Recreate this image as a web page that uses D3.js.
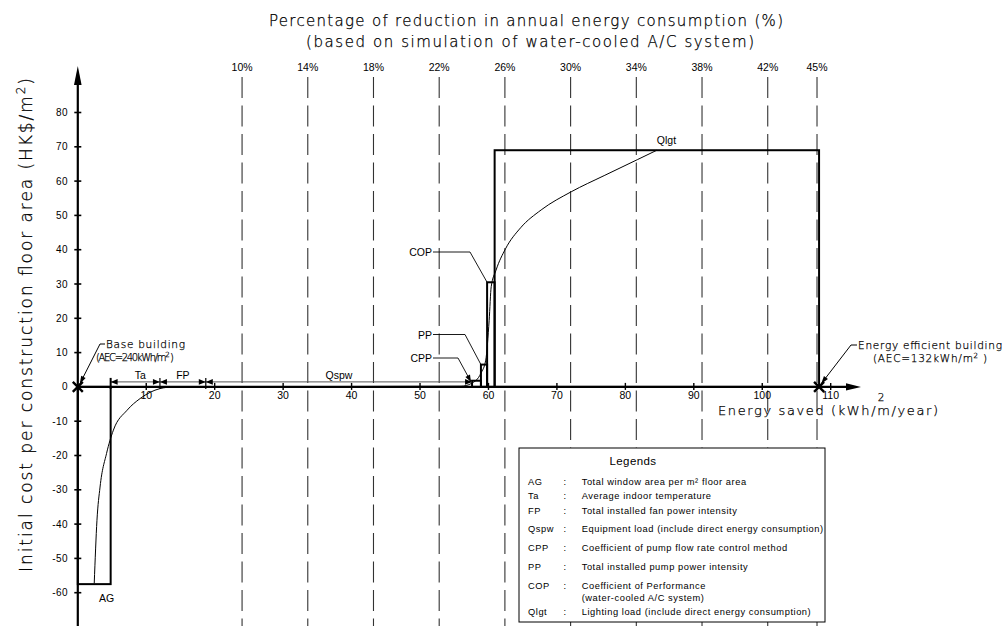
<!DOCTYPE html>
<html><head><meta charset="utf-8">
<script src="https://cdn.jsdelivr.net/npm/d3@7/dist/d3.min.js"></script>
<style>body{margin:0;background:#fff}svg{display:block}
.thin{fill:#000;stroke:#000;stroke-width:0.25}</style>
</head><body>
<svg id="c" width="1003" height="626"></svg>
<script>
// ---------------- data ----------------
const measures     = ["AG", "Ta", "FP", "Qspw", "CPP", "PP", "COP", "Qlgt"];
const energyBounds = [0, 4.8, 12.0, 18.7, 57.6, 58.9, 59.8, 60.9, 108.3];
const costs        = [-57.5, 0, 0, 0, 1.8, 6.5, 30.5, 69];

const curveEnergy = [2.4, 2.8, 3.25, 4.2, 5.2, 7.2, 9.1, 12.0, 14, 56, 57.5, 58.9, 59.6, 60.1, 60.4, 61.1, 62.5, 64.7, 67.7, 72.1, 76.9, 81.8, 84.6];
const curveCost   = [-57.3, -38.9, -29.2, -19.4, -12.6, -6.8, -3.4, -0.5, 0, 0.2, 1.0, 4.0, 7.8, 19.4, 29.2, 34.0, 40.3, 46.4, 51.6, 56.9, 61.6, 66.3, 69];

const baseAEC    = 240;
const effAEC     = 132;
const pctValues  = [10, 14, 18, 22, 26, 30, 34, 38, 42, 45];
const pctLabels  = ["10%", "14%", "18%", "22%", "26%", "30%", "34%", "38%", "42%", "45%"];
const xTicks     = [10, 20, 30, 40, 50, 60, 70, 80, 90, 100, 110];
const yTicks     = [-60, -50, -40, -30, -20, -10, 0, 10, 20, 30, 40, 50, 60, 70, 80];

const legendKeys  = ["AG", "Ta", "FP", "Qspw", "CPP", "PP", "COP", "Qlgt"];
const legendDescs = [
  "Total window area per m\u00b2 floor area",
  "Average indoor temperature",
  "Total installed fan power intensity",
  "Equipment load (include direct energy consumption)",
  "Coefficient of pump flow rate control method",
  "Total installed pump power intensity",
  "Coefficient of Performance|(water-cooled A/C system)",
  "Lighting load (include direct energy consumption)"
];

// ---------------- layout ----------------
const svg = d3.select("#c");
const x = d3.scaleLinear().domain([0, 110]).range([77.8, 830.7]);
const y = d3.scaleLinear().domain([-60, 80]).range([592.7, 112.5]);
const big = "'DejaVu Sans', sans-serif";
const small = "'Liberation Sans', Arial, sans-serif";

// dashed percentage lines
const pctG = svg.append("g");
pctValues.forEach((p, i) => {
  const xv = x(p / 100 * baseAEC);
  pctG.append("line").attr("x1", xv).attr("x2", xv).attr("y1", 77).attr("y2", 626)
    .attr("stroke", "#333").attr("stroke-width", 1.1).attr("stroke-dasharray", "21,7.5");
  pctG.append("text").attr("x", xv).attr("y", 67).attr("text-anchor", "middle")
    .attr("dominant-baseline", "central").attr("font-family", small).attr("font-size", 10.5)
    .text(pctLabels[i]);
});

// titles
svg.append("text").attr("class", "thin").attr("x", 269).attr("y", 26).attr("font-family", big).attr("font-size", 15)
  .attr("font-weight", 200).attr("textLength", 514).attr("lengthAdjust", "spacing")
  .text("Percentage of reduction in annual energy consumption (%)");
svg.append("text").attr("class", "thin").attr("x", 306).attr("y", 47).attr("font-family", big).attr("font-size", 15)
  .attr("font-weight", 200).attr("textLength", 448).attr("lengthAdjust", "spacing")
  .text("(based on simulation of water-cooled A/C system)");

// y-axis label
const yl = svg.append("text").attr("class", "thin").attr("transform", "translate(32,572) rotate(-90)")
  .attr("font-family", big).attr("font-size", 17).attr("font-weight", 200)
  .attr("textLength", 494).attr("lengthAdjust", "spacing");
yl.append("tspan").text("Initial cost per construction floor area (HK$/m");
yl.append("tspan").attr("baseline-shift", "super").attr("font-size", 12).text("2");
yl.append("tspan").text(")");

// axes
const y0 = y(0);
svg.append("line").attr("x1", x(0)).attr("x2", x(0)).attr("y1", 626).attr("y2", 80)
  .attr("stroke", "#000").attr("stroke-width", 2.2);
svg.append("path").attr("d", `M${x(0)},66 L${x(0) - 3.8},85 L${x(0) + 3.8},85 Z`).attr("fill", "#000");
svg.append("line").attr("x1", x(0)).attr("x2", 850).attr("y1", y0).attr("y2", y0)
  .attr("stroke", "#000").attr("stroke-width", 2.2);
svg.append("path").attr("d", `M861,${y0} L846,${y0 - 3.6} L846,${y0 + 3.6} Z`).attr("fill", "#000");

yTicks.forEach(t => {
  if (t !== 0) svg.append("line").attr("x1", x(0) - 3.5).attr("x2", x(0) + 3.5)
    .attr("y1", y(t)).attr("y2", y(t)).attr("stroke", "#000").attr("stroke-width", 1.6);
  svg.append("text").attr("x", 68).attr("y", y(t)).attr("text-anchor", "end")
    .attr("dominant-baseline", "central").attr("font-family", small).attr("font-size", 10)
    .attr("letter-spacing", 0.4).text(t);
});
xTicks.forEach(t => {
  svg.append("line").attr("x1", x(t)).attr("x2", x(t)).attr("y1", y0 - 4).attr("y2", y0 + 3)
    .attr("stroke", "#000").attr("stroke-width", 1.4);
  svg.append("text").attr("x", x(t)).attr("y", 395).attr("text-anchor", "middle")
    .attr("dominant-baseline", "central").attr("font-family", small).attr("font-size", 10.5)
    .text(t);
});

// x-axis label
svg.append("text").attr("class", "thin").attr("x", 718).attr("y", 415).attr("font-family", big).attr("font-size", 13)
  .attr("font-weight", 200).attr("textLength", 220).attr("lengthAdjust", "spacing")
  .text("Energy saved (kWh/m/year)");
svg.append("text").attr("class", "thin").attr("x", 881).attr("y", 397).attr("text-anchor", "middle")
  .attr("dominant-baseline", "central").attr("font-family", big).attr("font-weight", 200)
  .attr("font-size", 10.5).text("2");

// bars (step outlines)
measures.forEach((m, i) => {
  const c = costs[i];
  if (c === 0) return;
  const x1 = x(energyBounds[i]), x2 = x(energyBounds[i + 1]);
  const ya = y(Math.max(c, 0)), yb = y(Math.min(c, 0));
  svg.append("rect").attr("x", x1).attr("y", ya).attr("width", x2 - x1).attr("height", yb - ya)
    .attr("fill", "none").attr("stroke", "#000").attr("stroke-width", 2);
});

// cumulative curve
const pts = curveEnergy.map((e, i) => [x(e), y(curveCost[i])]);
svg.append("path").attr("d", d3.line().curve(d3.curveMonotoneX)(pts))
  .attr("fill", "none").attr("stroke", "#000").attr("stroke-width", 1);

// dimension line for Ta, FP, Qspw
const dimY = y0 - 5;
const arrow = (xt, dir) => `M${xt},${dimY} L${xt - dir * 7},${dimY - 2.8} L${xt - dir * 7},${dimY + 2.8} Z`;
[1, 2, 3].forEach(i => {
  const a = x(energyBounds[i]), b = x(energyBounds[i + 1]);
  svg.append("line").attr("x1", a).attr("x2", b).attr("y1", dimY).attr("y2", dimY)
    .attr("stroke", "#555").attr("stroke-width", 1);
  svg.append("path").attr("d", arrow(a, -1)).attr("fill", "#000");
  svg.append("path").attr("d", arrow(b, 1)).attr("fill", "#000");
  svg.append("line").attr("x1", a).attr("x2", a).attr("y1", dimY - 4).attr("y2", y0 + 2)
    .attr("stroke", "#000").attr("stroke-width", i === 1 ? 2 : 1.2);
  svg.append("text").attr("x", (a + b) / 2 + (i === 1 ? 5 : 0)).attr("y", dimY - 7).attr("text-anchor", "middle")
    .attr("dominant-baseline", "central").attr("font-family", small).attr("font-size", 10.5)
    .text(measures[i]);
});

// labels with leaders for AG, CPP, PP, COP, Qlgt
svg.append("text").attr("x", x(energyBounds[1]) - 4).attr("y", y(costs[0]) + 14).attr("text-anchor", "middle")
  .attr("dominant-baseline", "central").attr("font-family", small).attr("font-size", 10.5).text("AG");
svg.append("text").attr("x", x(84.6)).attr("y", y(69) - 10).attr("font-family", small)
  .attr("dominant-baseline", "central").attr("font-size", 10.5).text("Qlgt");

const leaders = [
  { i: 6, tx: x(energyBounds[6]), ty: y(costs[6]), ly: 252, ex: 470 },
  { i: 5, tx: x(energyBounds[5]), ty: y(costs[5]), ly: 334.5, ex: 465 },
  { i: 4, tx: x(energyBounds[4]) - 1, ty: y0 - 5, ly: 358, ex: 458, arrow: true }
];
leaders.forEach(l => {
  svg.append("path").attr("d", `M433,${l.ly} L${l.ex},${l.ly} L${l.tx},${l.ty}`)
    .attr("fill", "none").attr("stroke", "#000").attr("stroke-width", 0.9);
  if (l.arrow) {
    const ang = Math.atan2(l.ty - l.ly, l.tx - l.ex);
    const L = 7, W = 2.6;
    const bx = l.tx - L * Math.cos(ang), by = l.ty - L * Math.sin(ang);
    svg.append("path").attr("d", `M${l.tx},${l.ty} L${bx - W * Math.sin(ang)},${by + W * Math.cos(ang)} L${bx + W * Math.sin(ang)},${by - W * Math.cos(ang)} Z`).attr("fill", "#000");
  }
  svg.append("text").attr("x", 432).attr("y", l.ly).attr("text-anchor", "end")
    .attr("dominant-baseline", "central").attr("font-family", small).attr("font-size", 10.5)
    .text(measures[l.i]);
});

// X markers
[0, 108.3].forEach(e => {
  const cx = x(e);
  svg.append("path").attr("d", `M${cx - 5},${y0 - 5} L${cx + 5},${y0 + 5} M${cx - 5},${y0 + 5} L${cx + 5},${y0 - 5}`)
    .attr("stroke", "#000").attr("stroke-width", 2.4);
});

// Base building / energy efficient building annotations
function pointer(x1, y1, x2, y2, x3, y3) {
  svg.append("path").attr("d", `M${x1},${y1} L${x2},${y2} L${x3},${y3}`)
    .attr("fill", "none").attr("stroke", "#000").attr("stroke-width", 1);
  const ang = Math.atan2(y3 - y2, x3 - x2), L = 8, W = 2.5;
  const bx = x3 - L * Math.cos(ang), by = y3 - L * Math.sin(ang);
  svg.append("path").attr("d", `M${x3},${y3} L${bx - W * Math.sin(ang)},${by + W * Math.cos(ang)} L${bx + W * Math.sin(ang)},${by - W * Math.cos(ang)} Z`).attr("fill", "#000");
}
pointer(105, 344, 100, 344, x(0) + 2, y0 - 3);
pointer(857, 345, 851, 345, x(108.3) + 2, y0 - 3);

function aecText(tx, ty, len, fs, txt) {
  const t = svg.append("text").attr("class", "thin").attr("x", tx).attr("y", ty).attr("font-family", big).attr("font-size", fs)
    .attr("font-weight", 200).attr("textLength", len).attr("lengthAdjust", "spacing");
  t.append("tspan").text(txt);
  t.append("tspan").attr("baseline-shift", "super").attr("font-size", 7).text("2");
  t.append("tspan").text(" )");
}
svg.append("text").attr("class", "thin").attr("x", 106).attr("y", 348).attr("font-family", big).attr("font-size", 10.5)
  .attr("font-weight", 200).attr("textLength", 79).attr("lengthAdjust", "spacing").text("Base building");
aecText(96, 361, 78, 10, "(AEC=" + baseAEC + "kWh/m");
svg.append("text").attr("class", "thin").attr("x", 858).attr("y", 349).attr("font-family", big).attr("font-size", 10.5)
  .attr("font-weight", 200).attr("textLength", 144).attr("lengthAdjust", "spacing").text("Energy efficient building");
aecText(873, 362, 114, 10.5, "(AEC=" + effAEC + "kWh/m");

// legend
const lx = 519, ly = 448;
svg.append("rect").attr("x", lx).attr("y", ly).attr("width", 306).attr("height", 174)
  .attr("fill", "#fff").attr("stroke", "#000").attr("stroke-width", 1);
svg.append("text").attr("x", 633).attr("y", ly + 13).attr("text-anchor", "middle")
  .attr("dominant-baseline", "central").attr("font-family", small).attr("font-size", 11.5)
  .attr("letter-spacing", 0.4).text("Legends");
const rowY = [33.7, 47.7, 62.7, 81.3, 100.3, 118.7, 137.7, 163.7];
legendKeys.forEach((k, i) => {
  const yy = ly + rowY[i];
  const g = svg.append("g").attr("font-family", small).attr("font-size", 9.3)
    .attr("letter-spacing", 0.55).attr("dominant-baseline", "central");
  g.append("text").attr("x", 528).attr("y", yy).text(k);
  g.append("text").attr("x", 565).attr("y", yy).attr("text-anchor", "middle").text(":");
  legendDescs[i].split("|").forEach((s, j) => {
    g.append("text").attr("x", 581.7).attr("y", yy + j * 12.6).text(s);
  });
});
</script>
</body></html>
